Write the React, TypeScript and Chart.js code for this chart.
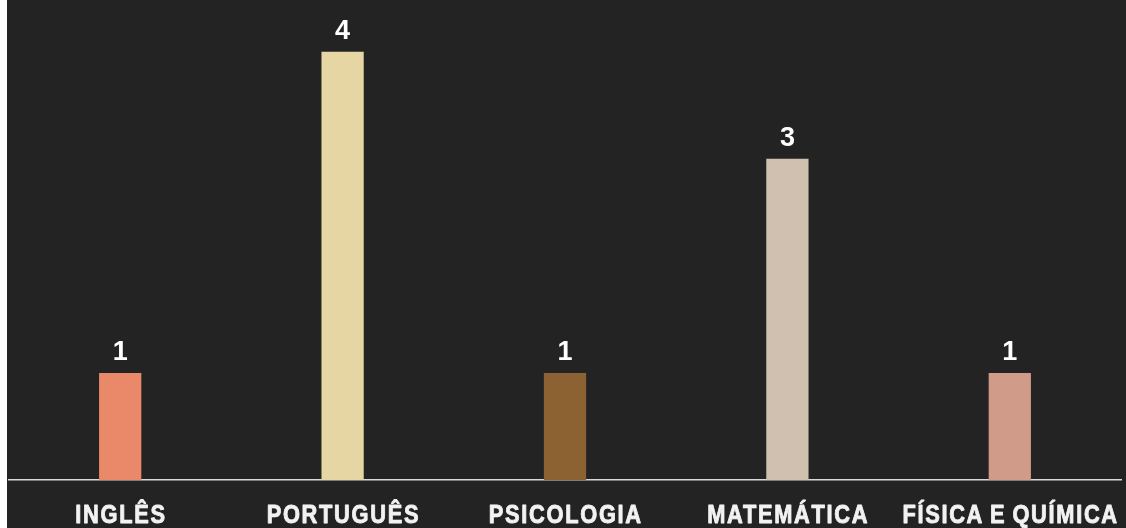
import React, { useEffect, useRef } from "react";
import { Chart, registerables } from "chart.js";

Chart.register(...registerables);

const categories = ["INGLÊS", "PORTUGUÊS", "PSICOLOGIA", "MATEMÁTICA", "FÍSICA E QUÍMICA"];
const values = [1, 4, 1, 3, 1];
const barColors = ["#E9896A", "#E5D6A3", "#8C6233", "#CFC0AF", "#D09B89"];

const labelsPlugin = {
  id: "customLabels",
  afterDatasetsDraw(chart: any) {
    const ctx = chart.ctx;
    const meta = chart.getDatasetMeta(0);
    const xScale = chart.scales.x;
    ctx.save();
    ctx.fillStyle = "#FFFFFF";
    ctx.textAlign = "center";
    ctx.textBaseline = "alphabetic";
    ctx.font = "bold 27px 'Liberation Sans', Arial, sans-serif";
    meta.data.forEach((bar: any, i: number) => {
      ctx.fillText(String(values[i]), bar.x, bar.y - 13);
    });
    ctx.restore();

    const sx = 0.84;
    categories.forEach((c, i) => {
      const x = xScale.getPixelForValue(i);
      ctx.save();
      ctx.fillStyle = "#F2F2F2";
      ctx.strokeStyle = "#F2F2F2";
      ctx.lineWidth = 0.9;
      ctx.lineJoin = "round";
      ctx.textAlign = "center";
      ctx.textBaseline = "alphabetic";
      ctx.font = "bold 26px 'Liberation Sans', Arial, sans-serif";
      (ctx as any).letterSpacing = "2px";
      (ctx as any).wordSpacing = "-2px";
      ctx.translate(x + 0.8, chart.chartArea.bottom + 43);
      ctx.scale(sx, 1);
      ctx.fillText(c, 0, 0);
      ctx.strokeText(c, 0, 0);
      ctx.restore();
    });
  },
};

const bgPlugin = {
  id: "bg",
  beforeDraw(chart: any) {
    const ctx = chart.ctx;
    ctx.save();
    ctx.fillStyle = "#232323";
    ctx.fillRect(0, 0, chart.width, chart.height);
    ctx.restore();
  },
};

export default function App() {
  const ref = useRef<HTMLCanvasElement>(null);
  useEffect(() => {
    document.body.style.margin = "0";
    document.body.style.background = "#ffffff";
    const chart = new Chart(ref.current!, {
      type: "bar",
      data: {
        labels: categories,
        datasets: [
          {
            data: values,
            backgroundColor: barColors,
            borderWidth: 0,
            barPercentage: 0.19,
            categoryPercentage: 1,
          },
        ],
      },
      options: {
        animation: false,
        responsive: false,
        maintainAspectRatio: false,
        layout: { padding: { top: 9, left: 2, right: 5, bottom: 40 } },
        plugins: { legend: { display: false }, tooltip: { enabled: false } },
        scales: {
          x: {
            grid: { display: false },
            ticks: { display: false },
            border: { display: true, color: "#D9D9D9", width: 1.5 },
          },
          y: {
            display: false,
            min: 0,
            max: 4.4,
          },
        },
      },
      plugins: [bgPlugin, labelsPlugin],
    });
    return () => chart.destroy();
  }, []);
  return (
    <div style={{ paddingLeft: 7, width: 1119, height: 528, background: "#fff" }}>
      <canvas ref={ref} width={1119} height={528} style={{ display: "block" }} />
    </div>
  );
}
